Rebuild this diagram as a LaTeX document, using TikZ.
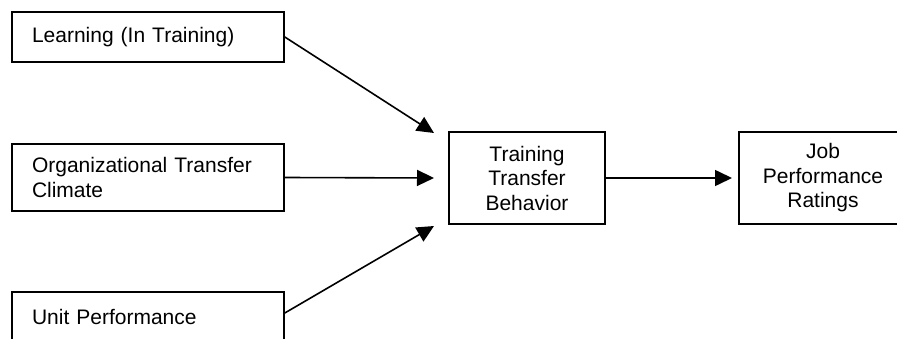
\documentclass[tikz,border=0pt]{standalone}
\usepackage{fontspec}
\setmainfont{Liberation Sans}
\usetikzlibrary{arrows.meta,calc}

\tikzset{
  factorbox/.style={draw,line width=1.6pt,minimum width=272pt,text width=232pt,
    align=left,inner xsep=0pt,inner ysep=0pt},
  stagebox/.style={draw,line width=1.6pt,minimum height=92pt,align=center,inner sep=0pt},
  path arrow/.style={line width=1.6pt,-{Triangle[length=17pt,width=16pt]}}
}

\begin{document}
\begin{tikzpicture}[x=1pt,y=-1pt,font=\fontsize{21}{24.5}\selectfont]
\clip (0,0) rectangle (897,339);
\useasboundingbox (0,0) rectangle (897,339);

% input factors
\node[factorbox,minimum height=50pt] (learn) at (148,37) {Learning (In Training)};
\node[factorbox,minimum height=67pt] (climate) at (148,177.5) {Organizational Transfer\\Climate};
\node[factorbox,minimum height=50pt] (unit) at (148,317) {Unit Performance};

% outcomes
\node[stagebox,minimum width=156pt] (transfer) at (527,178) {Training\\Transfer\\Behavior};
\node[stagebox,minimum width=168pt] (rating) at (823,178) {Job\\Performance\\Ratings};

% arrow ends
\coordinate (inA) at (434,133);
\coordinate (inB) at (434,178);
\coordinate (inC) at (434,226);
\coordinate (inD) at (732,178);

\draw[path arrow] (learn.east) -- (inA);
\draw[path arrow] (climate.east) -- (inB);
\draw[path arrow] ($(unit.east)+(0,-4)$) -- (inC);
\draw[path arrow] (transfer.east) -- (inD);

\end{tikzpicture}
\end{document}
